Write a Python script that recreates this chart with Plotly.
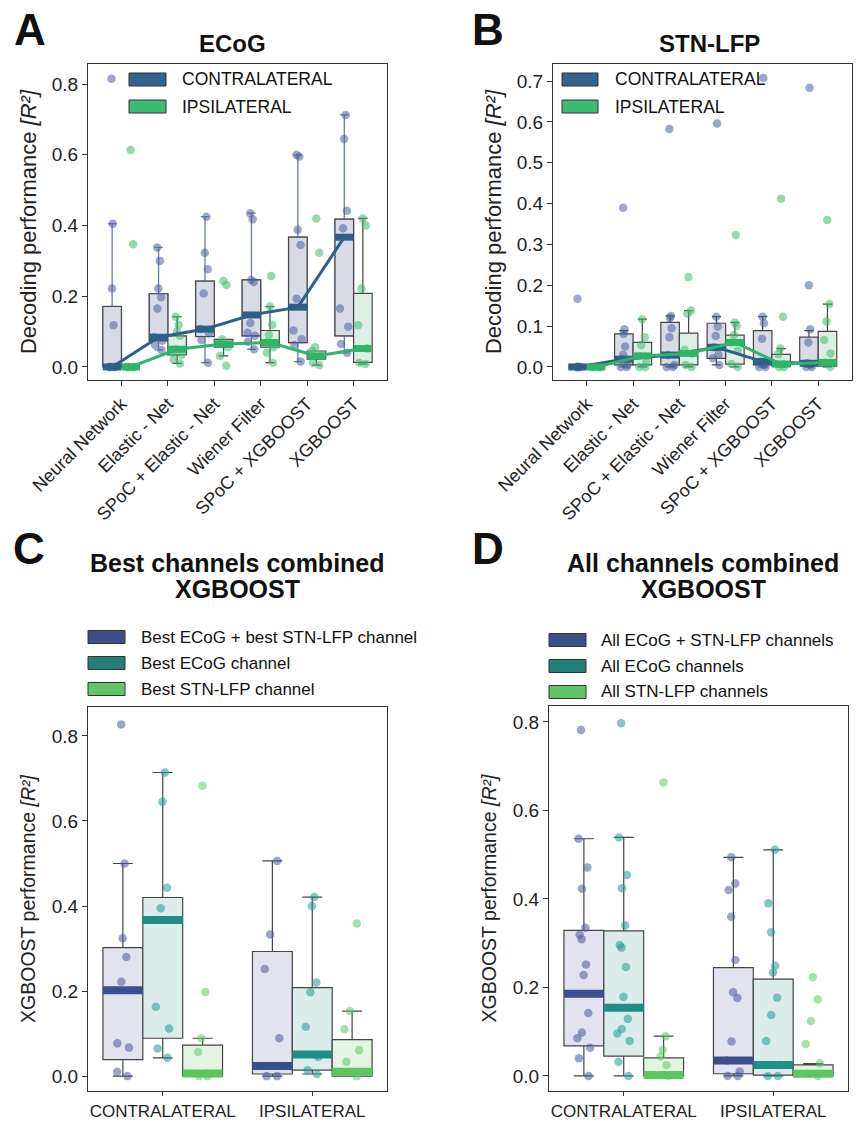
import plotly.graph_objects as go

W, H = 866, 1122


def px(x):
    return x / W


def py(y):
    return 1 - y / H


# ------------------------------------------------------------------ DATA
methods = ["Neural Network", "Elastic - Net", "SPoC + Elastic - Net",
           "Wiener Filter", "SPoC + XGBOOST", "XGBOOST"]
sides = ["CONTRALATERAL", "IPSILATERAL"]

# Panel A : ECoG  (per method)
ecog_contra_q1 = [0.0, 0.074, 0.086, 0.088, 0.069, 0.088]
ecog_contra_med = [0.0, 0.084, 0.107, 0.147, 0.169, 0.367]
ecog_contra_q3 = [0.171, 0.207, 0.243, 0.246, 0.367, 0.418]
ecog_contra_lo = [0.0, 0.048, 0.012, 0.050, 0.015, 0.040]
ecog_contra_hi = [0.405, 0.338, 0.425, 0.435, 0.599, 0.713]
ecog_contra_pts = [
    [0.815, 0.405, 0.222, 0.118, 0.0, 0.0, 0.0, 0.0, 0.0],
    [0.338, 0.300, 0.222, 0.197, 0.165, 0.084, 0.074, 0.062, 0.048],
    [0.425, 0.323, 0.276, 0.208, 0.107, 0.095, 0.076, 0.012],
    [0.435, 0.418, 0.246, 0.240, 0.124, 0.097, 0.088, 0.071, 0.050],
    [0.600, 0.595, 0.388, 0.345, 0.193, 0.103, 0.078, 0.062, 0.015],
    [0.713, 0.645, 0.442, 0.392, 0.165, 0.114, 0.065, 0.040],
]
ecog_ipsi_q1 = [0.0, 0.034, 0.056, 0.056, 0.022, 0.013]
ecog_ipsi_med = [0.0, 0.050, 0.065, 0.069, 0.031, 0.052]
ecog_ipsi_q3 = [0.0, 0.088, 0.078, 0.103, 0.045, 0.208]
ecog_ipsi_lo = [0.0, 0.010, 0.031, 0.012, 0.005, 0.008]
ecog_ipsi_hi = [0.0, 0.142, 0.078, 0.171, 0.045, 0.420]
ecog_ipsi_pts = [
    [0.614, 0.347, 0.0, 0.0, 0.0, 0.0, 0.0],
    [0.142, 0.119, 0.100, 0.088, 0.050, 0.040, 0.034, 0.020, 0.010],
    [0.243, 0.232, 0.078, 0.065, 0.056, 0.031, 0.003],
    [0.257, 0.171, 0.119, 0.090, 0.069, 0.056, 0.040, 0.012],
    [0.420, 0.323, 0.056, 0.045, 0.031, 0.012, 0.005],
    [0.420, 0.400, 0.222, 0.118, 0.052, 0.012, 0.008],
]

# Panel B : STN-LFP
stn_contra_q1 = [0.0, 0.005, 0.005, 0.021, 0.005, 0.005]
stn_contra_med = [0.0, 0.019, 0.029, 0.048, 0.013, 0.009]
stn_contra_q3 = [0.0, 0.081, 0.109, 0.107, 0.089, 0.073]
stn_contra_lo = [0.0, 0.0, 0.0, 0.005, 0.0, 0.0]
stn_contra_hi = [0.0, 0.089, 0.125, 0.123, 0.123, 0.089]
stn_contra_pts = [
    [0.167, 0.0, 0.0, 0.0, 0.0, 0.0, 0.0],
    [0.390, 0.092, 0.081, 0.050, 0.030, 0.019, 0.005, 0.0, 0.0],
    [0.583, 0.125, 0.120, 0.095, 0.073, 0.029, 0.005, 0.0, 0.0],
    [0.596, 0.123, 0.099, 0.076, 0.048, 0.030, 0.021, 0.005],
    [0.708, 0.123, 0.107, 0.069, 0.013, 0.005, 0.0, 0.0],
    [0.684, 0.200, 0.092, 0.060, 0.009, 0.005, 0.0, 0.0],
]
stn_ipsi_q1 = [0.0, 0.005, 0.005, 0.007, 0.002, 0.002]
stn_ipsi_med = [0.0, 0.027, 0.033, 0.060, 0.007, 0.011]
stn_ipsi_q3 = [0.0, 0.060, 0.083, 0.078, 0.031, 0.087]
stn_ipsi_lo = [0.0, 0.0, 0.0, 0.0, 0.0, 0.0]
stn_ipsi_hi = [0.0, 0.117, 0.138, 0.109, 0.045, 0.154]
stn_ipsi_pts = [
    [0.0, 0.0, 0.0, 0.0, 0.0, 0.0],
    [0.117, 0.073, 0.054, 0.027, 0.010, 0.0, 0.0],
    [0.220, 0.138, 0.130, 0.042, 0.033, 0.005, 0.0],
    [0.323, 0.109, 0.100, 0.078, 0.060, 0.040, 0.007, 0.0],
    [0.412, 0.123, 0.045, 0.031, 0.007, 0.0, 0.0],
    [0.360, 0.154, 0.111, 0.066, 0.033, 0.011, 0.0],
]

# Panel C : best channels combined (per side: contra, ipsi)
best_names = ["Best ECoG + best STN-LFP channel", "Best ECoG channel", "Best STN-LFP channel"]
best_comb_q1 = [0.039, 0.005]
best_comb_med = [0.202, 0.024]
best_comb_q3 = [0.302, 0.293]
best_comb_lo = [0.0, 0.0]
best_comb_hi = [0.500, 0.506]
best_comb_pts = [[0.827, 0.500, 0.324, 0.280, 0.222, 0.077, 0.067, 0.010, 0.0],
                 [0.506, 0.333, 0.252, 0.089, 0.0, 0.0]]
best_ecog_q1 = [0.089, 0.014]
best_ecog_med = [0.367, 0.051]
best_ecog_q3 = [0.420, 0.208]
best_ecog_lo = [0.043, 0.005]
best_ecog_hi = [0.714, 0.421]
best_ecog_pts = [[0.714, 0.645, 0.443, 0.395, 0.163, 0.112, 0.065, 0.043],
                 [0.421, 0.400, 0.220, 0.197, 0.116, 0.045, 0.014, 0.005]]
best_stn_q1 = [0.0, 0.0]
best_stn_med = [0.006, 0.010]
best_stn_q3 = [0.073, 0.086]
best_stn_lo = [0.0, 0.0]
best_stn_hi = [0.089, 0.153]
best_stn_pts = [[0.683, 0.198, 0.089, 0.057, 0.006, 0.0, 0.0],
                [0.359, 0.153, 0.110, 0.061, 0.034, 0.0]]

# Panel D : all channels combined
all_names = ["All ECoG + STN-LFP channels", "All ECoG channels", "All STN-LFP channels"]
all_comb_q1 = [0.068, 0.005]
all_comb_med = [0.186, 0.035]
all_comb_q3 = [0.329, 0.245]
all_comb_lo = [0.0, 0.0]
all_comb_hi = [0.536, 0.494]
all_comb_pts = [[0.782, 0.536, 0.471, 0.423, 0.335, 0.319, 0.309, 0.252, 0.228,
                 0.142, 0.098, 0.085, 0.064, 0.040, 0.0],
                [0.494, 0.435, 0.420, 0.360, 0.262, 0.189, 0.176, 0.078, 0.035,
                 0.010, 0.0, 0.0]]
all_ecog_q1 = [0.045, 0.002]
all_ecog_med = [0.154, 0.025]
all_ecog_q3 = [0.328, 0.219]
all_ecog_lo = [0.0, 0.0]
all_ecog_hi = [0.539, 0.511]
all_ecog_pts = [[0.797, 0.539, 0.454, 0.424, 0.340, 0.296, 0.290, 0.246, 0.179,
                 0.129, 0.106, 0.096, 0.079, 0.032, 0.0],
                [0.511, 0.390, 0.325, 0.249, 0.234, 0.177, 0.138, 0.079, 0.025,
                 0.0, 0.0]]
all_stn_q1 = [0.0, 0.0]
all_stn_med = [0.002, 0.005]
all_stn_q3 = [0.041, 0.025]
all_stn_lo = [0.0, 0.0]
all_stn_hi = [0.090, 0.028]
all_stn_pts = [[0.663, 0.090, 0.059, 0.044, 0.025, 0.002, 0.0],
               [0.223, 0.173, 0.124, 0.072, 0.029, 0.005, 0.0]]

# ------------------------------------------------------------------ STYLE
FONT = "Liberation Sans, Arial, sans-serif"
EDGE = "#444444"
AB_STYLE = {
    "contra": dict(fill="#d8dbe6", med="#2c5f8a", pt="#4a5f9e", patch="#34638e"),
    "ipsi": dict(fill="#ddefe3", med="#2fb567", pt="#3cbc6c", patch="#3cbb74"),
}
CD_STYLE = [
    dict(fill="#e2e3ee", med="#3b4e8f", pt="#4a5a9c", patch="#3e4f88"),
    dict(fill="#dcecea", med="#1e8f87", pt="#1f9a92", patch="#247f79"),
    dict(fill="#e4f4e2", med="#5cc65f", pt="#5cc86a", patch="#5fc566"),
]

fig = go.Figure()


def add_box(xa, ya, pos, q1, med, q3, lo, hi, pts, width, fill, pt_color,
            jitter, whisker_color=None):
    common = dict(xaxis=xa, yaxis=ya, showlegend=False, hoverinfo="skip",
                  orientation="v")
    if whisker_color:
        fig.add_trace(go.Box(x=[pos], q1=[q1], median=[med], q3=[q3],
                             lowerfence=[lo], upperfence=[hi], width=width,
                             fillcolor="rgba(0,0,0,0)", boxpoints=False,
                             whiskerwidth=0.45,
                             line=dict(color=whisker_color, width=1.3), **common))
        lo_b, hi_b = q1, q3
    else:
        lo_b, hi_b = lo, hi
    fig.add_trace(go.Box(x=[pos], q1=[q1], median=[med], q3=[q3],
                         lowerfence=[lo_b], upperfence=[hi_b], width=width,
                         fillcolor=fill, boxpoints=False, whiskerwidth=0.5,
                         line=dict(color=EDGE, width=1.2), **common))
    fig.add_trace(go.Box(x=[pos] * len(pts), y=pts, width=width,
                         boxpoints="all", jitter=jitter, pointpos=0,
                         fillcolor="rgba(0,0,0,0)",
                         line=dict(color="rgba(0,0,0,0)", width=0),
                         marker=dict(color=pt_color, size=8.5, opacity=0.55,
                                     line=dict(width=0)),
                         **common))


def add_medians(xa, ya, positions, meds, width, color, lw, connect=False):
    xs, ys = [], []
    for p, m in zip(positions, meds):
        xs += [p - width / 2, p + width / 2, None]
        ys += [m, m, None]
    if connect:
        fig.add_trace(go.Scatter(x=positions, y=meds, mode="lines",
                                 line=dict(color=color, width=3),
                                 xaxis=xa, yaxis=ya, showlegend=False,
                                 hoverinfo="skip"))
    fig.add_trace(go.Scatter(x=xs, y=ys, mode="lines",
                             line=dict(color=color, width=lw),
                             xaxis=xa, yaxis=ya, showlegend=False,
                             hoverinfo="skip"))


# ---- Panels A and B
ab_w = 0.4
for xa, ya, contra, ipsi, wcol in [
    ("x", "y",
     (ecog_contra_q1, ecog_contra_med, ecog_contra_q3, ecog_contra_lo, ecog_contra_hi, ecog_contra_pts),
     (ecog_ipsi_q1, ecog_ipsi_med, ecog_ipsi_q3, ecog_ipsi_lo, ecog_ipsi_hi, ecog_ipsi_pts),
     "#6b79b4"),
    ("x2", "y2",
     (stn_contra_q1, stn_contra_med, stn_contra_q3, stn_contra_lo, stn_contra_hi, stn_contra_pts),
     (stn_ipsi_q1, stn_ipsi_med, stn_ipsi_q3, stn_ipsi_lo, stn_ipsi_hi, stn_ipsi_pts),
     None),
]:
    for key, data, off in [("contra", contra, -0.2), ("ipsi", ipsi, 0.2)]:
        st = AB_STYLE[key]
        q1s, meds, q3s, los, his, ptss = data
        positions = [i + off for i in range(len(methods))]
        for i, p in enumerate(positions):
            add_box(xa, ya, p, q1s[i], meds[i], q3s[i], los[i], his[i], ptss[i],
                    ab_w, st["fill"], st["pt"], 0.6,
                    whisker_color=wcol if key == "contra" else None)
    for key, data, off in [("contra", contra, -0.2), ("ipsi", ipsi, 0.2)]:
        st = AB_STYLE[key]
        positions = [i + off for i in range(len(methods))]
        add_medians(xa, ya, positions, data[1], ab_w, st["med"], 7, connect=True)

# ---- Panels C and D
cd_w = 0.8 / 3
for xa, ya, groups in [
    ("x3", "y3", [
        (best_comb_q1, best_comb_med, best_comb_q3, best_comb_lo, best_comb_hi, best_comb_pts),
        (best_ecog_q1, best_ecog_med, best_ecog_q3, best_ecog_lo, best_ecog_hi, best_ecog_pts),
        (best_stn_q1, best_stn_med, best_stn_q3, best_stn_lo, best_stn_hi, best_stn_pts)]),
    ("x4", "y4", [
        (all_comb_q1, all_comb_med, all_comb_q3, all_comb_lo, all_comb_hi, all_comb_pts),
        (all_ecog_q1, all_ecog_med, all_ecog_q3, all_ecog_lo, all_ecog_hi, all_ecog_pts),
        (all_stn_q1, all_stn_med, all_stn_q3, all_stn_lo, all_stn_hi, all_stn_pts)]),
]:
    for h, data in enumerate(groups):
        st = CD_STYLE[h]
        q1s, meds, q3s, los, his, ptss = data
        positions = [s + (h - 1) * cd_w for s in range(len(sides))]
        for i, p in enumerate(positions):
            add_box(xa, ya, p, q1s[i], meds[i], q3s[i], los[i], his[i], ptss[i],
                    cd_w, st["fill"], st["pt"], 0.45)
    for h, data in enumerate(groups):
        st = CD_STYLE[h]
        positions = [s + (h - 1) * cd_w for s in range(len(sides))]
        add_medians(xa, ya, positions, data[1], cd_w, st["med"], 8)

# ------------------------------------------------------------------ AXES
axis_common = dict(showline=True, mirror=True, linecolor="#333333", linewidth=1.3,
                   ticks="outside", tickwidth=1.2, tickcolor="#333333",
                   showgrid=False, zeroline=False, automargin=False)
yfont = dict(size=19, color="#222222", family=FONT)
xfont_ab = dict(size=18, color="#222222", family=FONT)
xfont_cd = dict(size=17, color="#222222", family=FONT)
ytitle_ab = dict(text="Decoding performance <i>[R²]</i>",
                 font=dict(size=22, color="#222222", family=FONT), standoff=8)
ytitle_cd = dict(text="XGBOOST performance <i>[R²]</i>",
                 font=dict(size=19.5, color="#222222", family=FONT), standoff=10)

fig.update_layout(
    width=W, height=H, margin=dict(l=0, r=0, t=0, b=0, autoexpand=False),
    paper_bgcolor="white", plot_bgcolor="white", showlegend=False,
    boxmode="overlay", font=dict(family=FONT, color="#222222"),
    xaxis=dict(domain=[px(88), px(387)], anchor="y", range=[-0.72, 5.72],
               tickvals=list(range(len(methods))), ticktext=methods, ticklen=5,
               tickangle=-45, tickfont=xfont_ab, **axis_common),
    yaxis=dict(domain=[py(380), py(64)], anchor="x", range=[-0.037, 0.857],
               tickvals=[0, 0.2, 0.4, 0.6, 0.8], tickformat=".1f", ticklen=5,
               tickfont=yfont, title=ytitle_ab, **axis_common),
    xaxis2=dict(domain=[px(553), px(852)], anchor="y2", range=[-0.73, 5.73],
                tickvals=list(range(len(methods))), ticktext=methods, ticklen=5,
                tickangle=-45, tickfont=xfont_ab, **axis_common),
    yaxis2=dict(domain=[py(380), py(64)], anchor="x2", range=[-0.032, 0.742],
                tickvals=[0, 0.1, 0.2, 0.3, 0.4, 0.5, 0.6, 0.7], tickformat=".1f",
                ticklen=5, tickfont=yfont, title=ytitle_ab, **axis_common),
    xaxis3=dict(domain=[px(88), px(387)], anchor="y3", range=[-0.5, 1.5],
                tickvals=[0, 1], ticktext=sides, ticklen=4, tickfont=xfont_cd,
                **axis_common),
    yaxis3=dict(domain=[py(1091), py(707)], anchor="x3", range=[-0.035, 0.868],
                tickvals=[0, 0.2, 0.4, 0.6, 0.8], tickformat=".1f", ticklen=5,
                tickfont=yfont, title=ytitle_cd, **axis_common),
    xaxis4=dict(domain=[px(549), px(848)], anchor="y4", range=[-0.5, 1.5],
                tickvals=[0, 1], ticktext=sides, ticklen=4, tickfont=xfont_cd,
                **axis_common),
    yaxis4=dict(domain=[py(1091), py(706)], anchor="x4", range=[-0.034, 0.836],
                tickvals=[0, 0.2, 0.4, 0.6, 0.8], tickformat=".1f", ticklen=5,
                tickfont=yfont, title=ytitle_cd, **axis_common),
)

# ------------------------------------------------------------------ TEXT / LEGENDS
annotations = []
shapes = []


def text(x, y, s, size, bold=False, xanchor="center"):
    annotations.append(dict(x=px(x), y=py(y), xref="paper", yref="paper",
                            text=f"<b>{s}</b>" if bold else s, showarrow=False,
                            xanchor=xanchor, yanchor="middle",
                            font=dict(size=size, color="#111111", family=FONT)))


text(30, 30, "A", 44, bold=True)
text(488, 30, "B", 44, bold=True)
text(29, 548, "C", 44, bold=True)
text(488, 548, "D", 44, bold=True)
text(232, 44, "ECoG", 24, bold=True)
text(709, 44, "STN-LFP", 24, bold=True)
text(237, 563, "Best channels combined", 25, bold=True)
text(237, 589, "XGBOOST", 25, bold=True)
text(703, 563, "All channels combined", 25, bold=True)
text(703, 589, "XGBOOST", 25, bold=True)


def patch(x0, x1, y0, y1, color):
    shapes.append(dict(type="rect", xref="paper", yref="paper",
                       x0=px(x0), x1=px(x1), y0=py(y1), y1=py(y0),
                       fillcolor=color, line=dict(color="#333333", width=1)))


# A legend
for j, (lab, key) in enumerate(zip(sides, ["contra", "ipsi"])):
    yc = 79.5 + 27 * j
    patch(129, 166, yc - 6.5, yc + 6.5, AB_STYLE[key]["patch"])
    text(180, yc, lab, 17.5, xanchor="left")
# B legend
for j, (lab, key) in enumerate(zip(sides, ["contra", "ipsi"])):
    yc = 79.5 + 27 * j
    patch(562, 598, yc - 6.5, yc + 6.5, AB_STYLE[key]["patch"])
    text(613, yc, lab, 17.5, xanchor="left")
# C legend
for j, lab in enumerate(best_names):
    yc = 637 + 26 * j
    patch(88, 125, yc - 6.5, yc + 6.5, CD_STYLE[j]["patch"])
    text(139, yc, lab, 17, xanchor="left")
# D legend
for j, lab in enumerate(all_names):
    yc = 640 + 26 * j
    patch(549, 586, yc - 6.5, yc + 6.5, CD_STYLE[j]["patch"])
    text(599, yc, lab, 17, xanchor="left")

fig.update_layout(annotations=annotations, shapes=shapes)

fig.write_html("out.html", config={"displayModeBar": False},
               post_script="document.body.style.margin='0';")
